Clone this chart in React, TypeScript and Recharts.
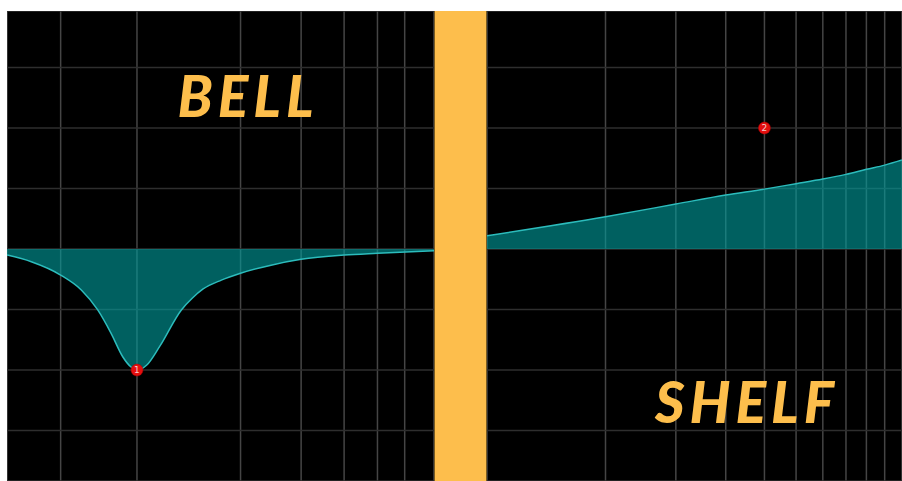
import { AreaChart, Area, XAxis, YAxis, CartesianGrid, ReferenceDot } from 'recharts';

// gain grid (dB)
const gainTicks = [-9, -6, -3, 0, 3, 6, 9];
const gainDomain: [number, number] = [-11.5, 11.8];

// bell panel (low mids)
const bellGridFreqs = [60, 100, 200, 300, 400, 500, 600];
const bellFreqs = [41.9, 49.3, 60, 68.9, 76.9, 84.1, 90.9, 96.1, 100, 106.8, 116.3, 134.6, 144.7, 155.7, 175.9, 200, 245.3, 300, 400, 500, 730];
const bellGains = [-0.3, -0.63, -1.29, -2.03, -3.02, -4.18, -5.34, -5.85, -6.0, -5.75, -4.84, -3.02, -2.44, -1.98, -1.54, -1.2, -0.8, -0.51, -0.3, -0.21, -0.08];

// shelf panel (highs)
const shelfGridFreqs = [2000, 3000, 4000, 5000, 6000, 7000, 8000, 9000, 10000];
const shelfFreqs = [1010, 2000, 3000, 4000, 5000, 6000, 7000, 8000, 9000, 10000, 11050];
const shelfGains = [0.66, 1.6, 2.23, 2.68, 2.97, 3.24, 3.47, 3.7, 3.95, 4.16, 4.41];

// band handles
const bandIds = ['1', '2'];
const bandFreqs = [100, 5000];
const bandGains = [-6, 6];

const ORANGE = '#FDBE4C';

const bellData = bellFreqs.map((f, i) => ({ f, g: bellGains[i] }));
const shelfData = shelfFreqs.map((f, i) => ({ f, g: shelfGains[i] }));

type PanelProps = {
  data: { f: number; g: number }[];
  width: number;
  freqDomain: [number, number];
  gridFreqs: number[];
  band: number;
};

function EqPanel({ data, width, freqDomain, gridFreqs, band }: PanelProps) {
  return (
    <AreaChart width={width} height={470} data={data} margin={{ top: 0, right: 0, bottom: 0, left: 0 }}>
      <CartesianGrid horizontal={false} stroke="#454545" strokeWidth={1.5} />
      <CartesianGrid vertical={false} stroke="#2e2e2e" strokeWidth={1.5} />
      <XAxis
        dataKey="f"
        type="number"
        scale="log"
        domain={freqDomain}
        ticks={gridFreqs}
        interval={0}
        allowDataOverflow
        hide
      />
      <YAxis type="number" domain={gainDomain} ticks={gainTicks} interval={0} allowDataOverflow hide />
      <Area
        type="monotone"
        dataKey="g"
        baseValue={0}
        stroke="#2cbcbc"
        strokeWidth={1.5}
        fill="#00a0a0"
        fillOpacity={0.6}
        isAnimationActive={false}
      />
      <ReferenceDot
        x={bandFreqs[band]}
        y={bandGains[band]}
        r={6}
        fill="#e30e0e"
        stroke="#b00000"
        strokeWidth={0.5}
        label={{ value: bandIds[band], position: 'center', fill: '#f6caca', fontSize: 9, fontFamily: 'DejaVu Sans' }}
      />
    </AreaChart>
  );
}

export default function App() {
  const titleStyle = {
    fill: ORANGE,
    fontFamily: 'Lato, "Open Sans", sans-serif',
    fontWeight: 900,
    fontStyle: 'italic',
    fontSize: 57,
    letterSpacing: 5,
  };
  return (
    <div style={{ position: 'absolute', left: 7, top: 11, width: 895, height: 470, background: '#000', overflow: 'hidden' }}>
      <div style={{ position: 'absolute', left: 0, top: 0 }}>
        <EqPanel data={bellData} width={427} freqDomain={[41.9, 730]} gridFreqs={bellGridFreqs} band={0} />
      </div>
      <div
        style={{
          position: 'absolute',
          left: 427,
          top: 0,
          width: 51,
          height: 470,
          background: ORANGE,
          borderLeft: '1px solid #7a5c22',
          borderRight: '1px solid #7a5c22',
        }}
      />
      <div style={{ position: 'absolute', left: 480, top: 0 }}>
        <EqPanel data={shelfData} width={415} freqDomain={[1010, 11050]} gridFreqs={shelfGridFreqs} band={1} />
      </div>
      <svg width={895} height={470} style={{ position: 'absolute', left: 0, top: 0, pointerEvents: 'none' }}>
        <text x={241} y={106} textAnchor="middle" style={titleStyle}>
          BELL
        </text>
        <text x={740} y={412} textAnchor="middle" style={titleStyle}>
          SHELF
        </text>
      </svg>
    </div>
  );
}
